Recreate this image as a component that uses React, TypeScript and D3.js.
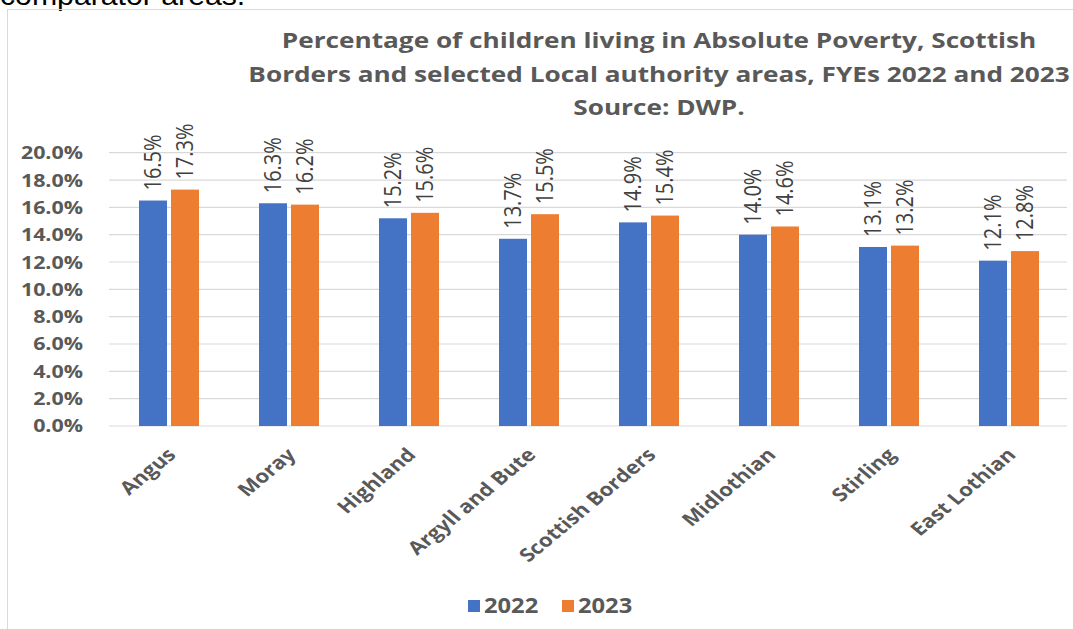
import React from "react";
import * as d3 from "d3";

const categories = ["Angus", "Moray", "Highland", "Argyll and Bute", "Scottish Borders", "Midlothian", "Stirling", "East Lothian"];
const series2022 = [16.5, 16.3, 15.2, 13.7, 14.9, 14.0, 13.1, 12.1];
const series2023 = [17.3, 16.2, 15.6, 15.5, 15.4, 14.6, 13.2, 12.8];
const yTicks = [0, 2, 4, 6, 8, 10, 12, 14, 16, 18, 20];
const titleLines = [
  "Percentage of children living in Absolute Poverty, Scottish",
  "Borders and selected Local authority areas, FYEs 2022 and 2023",
  "Source: DWP.",
];
const seriesNames = ["2022", "2023"];
const colors = ["#4472C4", "#ED7D31"];

export default function App() {
  const W = 1073, H = 629;
  const left = 109, right = 1069, top = 152.7, bottom = 426;
  const x = d3.scaleBand<string>().domain(categories).range([left, right]);
  const y = d3.scaleLinear().domain([0, 20]).range([bottom, top]);
  const inner = d3.scaleBand<string>().domain(seriesNames).range([30, 90]).paddingInner(0.125);
  const font = "'Open Sans', sans-serif";
  const data = [series2022, series2023];
  return (
    <svg width={W} height={H} style={{ position: "absolute", left: 0, top: 0, background: "#fff" }} fontFamily={font}>
      <rect x={0} y={0} width={W} height={H} fill="#fff" />
      <text transform="translate(0,5) scale(1.08,1)" fontFamily="'Liberation Sans', Arial, sans-serif" fontSize={28} fill="#000">comparator areas.</text>
      <rect x={7.5} y={9.5} width={1070} height={640} fill="none" stroke="#d9d9d9" strokeWidth={1} />
      {titleLines.map((t, i) => (
        <text key={i} transform={`translate(659,${48 + i * 33.5}) scale(1.19,1)`} textAnchor="middle" fontWeight="bold" fontSize={22} fill="#595959">{t}</text>
      ))}
      {yTicks.map((t) => (
        <g key={t}>
          <line x1={left} x2={1067} y1={y(t)} y2={y(t)} stroke="#d9d9d9" strokeWidth={1.2} />
          <text transform={`translate(83,${y(t)}) scale(1.19,1)`} dy="0.36em" textAnchor="end" fontWeight="bold" fontSize={18} fill="#595959">{t.toFixed(1)}%</text>
        </g>
      ))}
      {categories.map((c, i) => (
        <g key={c}>
          {data.map((s, j) => {
            const bx = (x(c) as number) + (inner(seriesNames[j]) as number);
            const bw = inner.bandwidth();
            return (
              <g key={j}>
                <rect x={bx} y={y(s[i])} width={bw} height={bottom - y(s[i])} fill={colors[j]} />
                <text transform={`translate(${bx + bw / 2},${y(s[i]) - 10}) scale(1.16,1) rotate(-90)`} dy="0.36em" fontSize={20} fill="#404040">{s[i].toFixed(1)}%</text>
              </g>
            );
          })}
          <text transform={`translate(${(x(c) as number) + x.bandwidth() / 2 + 8},${bottom + 30}) scale(1.2,1) rotate(-45)`} textAnchor="end" fontWeight="bold" fontSize={18.5} fill="#595959">{c}</text>
        </g>
      ))}
      {seriesNames.map((n, j) => (
        <g key={n} transform={`translate(${468 + j * 94},0)`}>
          <rect x={0} y={600} width={12} height={12} fill={colors[j]} />
          <text transform="translate(16,613) scale(1.13,1)" fontWeight="bold" fontSize={21} fill="#595959">{n}</text>
        </g>
      ))}
    </svg>
  );
}
